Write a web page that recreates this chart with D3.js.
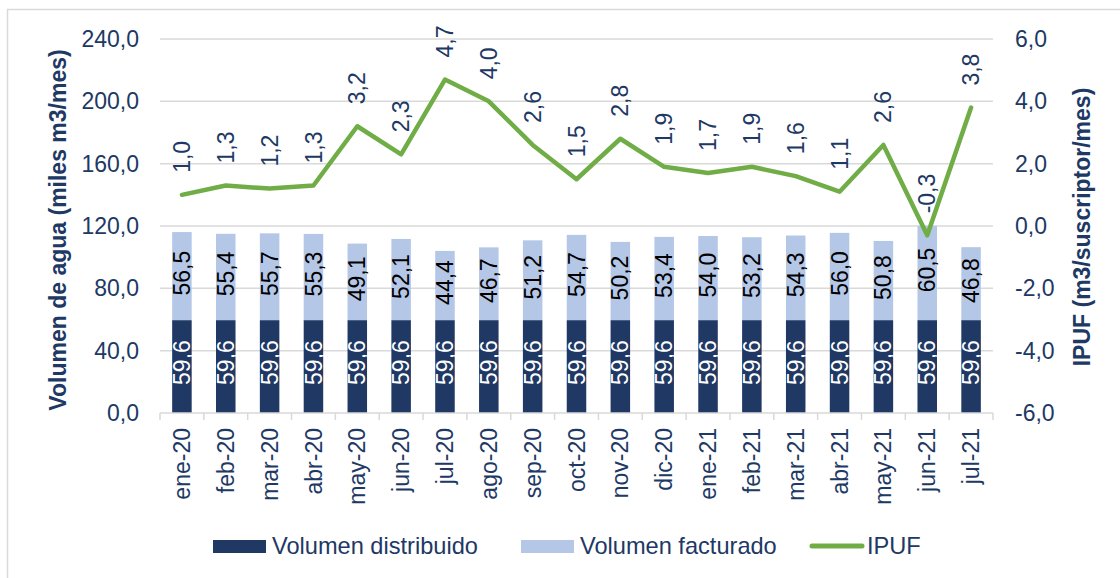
<!DOCTYPE html>
<html>
<head>
<meta charset="utf-8">
<script src="https://cdn.jsdelivr.net/npm/d3@7"></script>
<style>
  body { margin: 0; background: #fff; }
  text { font-family: "Liberation Sans", Arial, sans-serif; }
</style>
</head>
<body>
<div id="chart"></div>
<script>
'use strict';

var categories = ['ene-20', 'feb-20', 'mar-20', 'abr-20', 'may-20', 'jun-20', 'jul-20', 'ago-20', 'sep-20',
    'oct-20', 'nov-20', 'dic-20', 'ene-21', 'feb-21', 'mar-21', 'abr-21', 'may-21', 'jun-21', 'jul-21'];
var distribuido = [59.6, 59.6, 59.6, 59.6, 59.6, 59.6, 59.6, 59.6, 59.6, 59.6,
    59.6, 59.6, 59.6, 59.6, 59.6, 59.6, 59.6, 59.6, 59.6];
var facturado = [56.5, 55.4, 55.7, 55.3, 49.1, 52.1, 44.4, 46.7, 51.2, 54.7,
    50.2, 53.4, 54.0, 53.2, 54.3, 56.0, 50.8, 60.5, 46.8];
var ipuf = [1.0, 1.3, 1.2, 1.3, 3.2, 2.3, 4.7, 4.0, 2.6, 1.5,
    2.8, 1.9, 1.7, 1.9, 1.6, 1.1, 2.6, -0.3, 3.8];
var leftTicks = [0, 40, 80, 120, 160, 200, 240];
var rightTicks = [-6, -4, -2, 0, 2, 4, 6];

var width = 1120,
    height = 578;

var plot = { left: 160, right: 993, top: 39, bottom: 413 };

var navy = '#203864',
    light = '#B4C7E7',
    green = '#70AD47',
    grid = '#D9D9D9';

var fs = 23;

var fmt = function(v) {
    return v.toFixed(1).replace('.', ',');
};

var svg = d3.select('#chart').append('svg')
    .attr('width', width)
    .attr('height', height);

// chart border
svg.append('rect')
    .attr('x', 7.5).attr('y', 9.5)
    .attr('width', width + 20).attr('height', height + 20)
    .attr('fill', 'none')
    .attr('stroke', grid)
    .attr('stroke-width', 1.5);

var x = d3.scaleBand()
    .domain(categories)
    .range([plot.left, plot.right])
    .padding(0);

var y = d3.scaleLinear().domain([0, 240]).range([plot.bottom, plot.top]);
var y2 = d3.scaleLinear().domain([-6, 6]).range([plot.bottom, plot.top]);

var barW = x.bandwidth() * 0.445;
var cx = function(d) { return x(d) + x.bandwidth() / 2; };

// gridlines
svg.append('g').selectAll('line')
    .data(leftTicks.filter(function(d) { return d > 0; }))
    .enter().append('line')
    .attr('x1', plot.left).attr('x2', plot.right)
    .attr('y1', function(d) { return y(d); })
    .attr('y2', function(d) { return y(d); })
    .attr('stroke', grid)
    .attr('stroke-width', 1.5);

// left axis labels
svg.append('g').selectAll('text')
    .data(leftTicks)
    .enter().append('text')
    .attr('x', 139)
    .attr('y', function(d) { return y(d); })
    .attr('dy', '0.35em')
    .attr('text-anchor', 'end')
    .attr('font-size', fs)
    .attr('fill', navy)
    .text(fmt);

// right axis labels
svg.append('g').selectAll('text')
    .data(rightTicks)
    .enter().append('text')
    .attr('x', 1015)
    .attr('y', function(d) { return y2(d); })
    .attr('dy', '0.35em')
    .attr('text-anchor', 'start')
    .attr('font-size', fs)
    .attr('fill', navy)
    .text(fmt);

// axis titles
svg.append('text')
    .attr('transform', 'translate(58,' + ((plot.top + plot.bottom) / 2 + 4) + ') rotate(-90)')
    .attr('text-anchor', 'middle')
    .attr('dy', '0.35em')
    .attr('font-size', fs)
    .attr('font-weight', 'bold')
    .attr('fill', navy)
    .text('Volumen de agua (miles m3/mes)');

svg.append('text')
    .attr('transform', 'translate(1082,' + ((plot.top + plot.bottom) / 2 + 1) + ') rotate(-90)')
    .attr('text-anchor', 'middle')
    .attr('dy', '0.35em')
    .attr('font-size', fs)
    .attr('font-weight', 'bold')
    .attr('fill', navy)
    .text('IPUF (m3/suscriptor/mes)');

// bars
var bars = svg.append('g');
bars.selectAll('rect.dist')
    .data(categories)
    .enter().append('rect')
    .attr('class', 'dist')
    .attr('x', function(d) { return cx(d) - barW / 2; })
    .attr('width', barW)
    .attr('y', function(d, i) { return y(distribuido[i]); })
    .attr('height', function(d, i) { return y(0) - y(distribuido[i]); })
    .attr('fill', navy);

bars.selectAll('rect.fact')
    .data(categories)
    .enter().append('rect')
    .attr('class', 'fact')
    .attr('x', function(d) { return cx(d) - barW / 2; })
    .attr('width', barW)
    .attr('y', function(d, i) { return y(distribuido[i] + facturado[i]); })
    .attr('height', function(d, i) { return y(distribuido[i]) - y(distribuido[i] + facturado[i]); })
    .attr('fill', light);

// bar labels
bars.selectAll('text.dist')
    .data(categories)
    .enter().append('text')
    .attr('class', 'dist')
    .attr('transform', function(d, i) {
        return 'translate(' + cx(d) + ',' + (y(distribuido[i] / 2) - 4) + ') rotate(-90)';
    })
    .attr('text-anchor', 'middle')
    .attr('dy', '0.35em')
    .attr('font-size', fs)
    .attr('fill', '#fff')
    .text(function(d, i) { return fmt(distribuido[i]); });

bars.selectAll('text.fact')
    .data(categories)
    .enter().append('text')
    .attr('class', 'fact')
    .attr('transform', function(d, i) {
        return 'translate(' + cx(d) + ',' + (y(distribuido[i] + facturado[i] / 2) - 3) + ') rotate(-90)';
    })
    .attr('text-anchor', 'middle')
    .attr('dy', '0.35em')
    .attr('font-size', fs)
    .attr('fill', '#000')
    .text(function(d, i) { return fmt(facturado[i]); });

// x axis line and ticks
var xAxis = svg.append('g');
xAxis.append('line')
    .attr('x1', plot.left).attr('x2', plot.right)
    .attr('y1', plot.bottom).attr('y2', plot.bottom)
    .attr('stroke', grid)
    .attr('stroke-width', 1.5);

xAxis.selectAll('line.tick')
    .data(categories.concat(['end']))
    .enter().append('line')
    .attr('class', 'tick')
    .attr('x1', function(d, i) { return plot.left + i * x.bandwidth(); })
    .attr('x2', function(d, i) { return plot.left + i * x.bandwidth(); })
    .attr('y1', plot.bottom).attr('y2', plot.bottom + 7)
    .attr('stroke', grid)
    .attr('stroke-width', 1.5);

xAxis.selectAll('text')
    .data(categories)
    .enter().append('text')
    .attr('transform', function(d) { return 'translate(' + cx(d) + ',428) rotate(-90)'; })
    .attr('text-anchor', 'end')
    .attr('dy', '0.35em')
    .attr('font-size', fs)
    .attr('fill', navy)
    .text(function(d) { return d; });

// IPUF line
var line = d3.line()
    .x(function(d, i) { return cx(categories[i]); })
    .y(function(d) { return y2(d); });

svg.append('path')
    .datum(ipuf)
    .attr('d', line)
    .attr('fill', 'none')
    .attr('stroke', green)
    .attr('stroke-width', 4.5)
    .attr('stroke-linejoin', 'round')
    .attr('stroke-linecap', 'round');

svg.append('g').selectAll('text')
    .data(ipuf)
    .enter().append('text')
    .attr('transform', function(d, i) {
        return 'translate(' + cx(categories[i]) + ',' + (y2(d) - 22) + ') rotate(-90)';
    })
    .attr('text-anchor', 'start')
    .attr('dy', '0.35em')
    .attr('font-size', fs)
    .attr('fill', navy)
    .text(fmt);

// legend
var legend = svg.append('g');
legend.append('rect')
    .attr('x', 213).attr('y', 540).attr('width', 53).attr('height', 13)
    .attr('fill', navy);
legend.append('text')
    .attr('x', 272).attr('y', 554)
    .attr('font-size', 23.6).attr('fill', navy)
    .text('Volumen distribuido');

legend.append('rect')
    .attr('x', 521).attr('y', 540).attr('width', 53).attr('height', 13)
    .attr('fill', light);
legend.append('text')
    .attr('x', 580).attr('y', 554)
    .attr('font-size', 23.6).attr('fill', navy)
    .text('Volumen facturado');

legend.append('line')
    .attr('x1', 812).attr('x2', 862).attr('y1', 546).attr('y2', 546)
    .attr('stroke', green).attr('stroke-width', 5).attr('stroke-linecap', 'round');
legend.append('text')
    .attr('x', 867).attr('y', 554)
    .attr('font-size', 23.6).attr('fill', navy)
    .text('IPUF');
</script>
</body>
</html>
